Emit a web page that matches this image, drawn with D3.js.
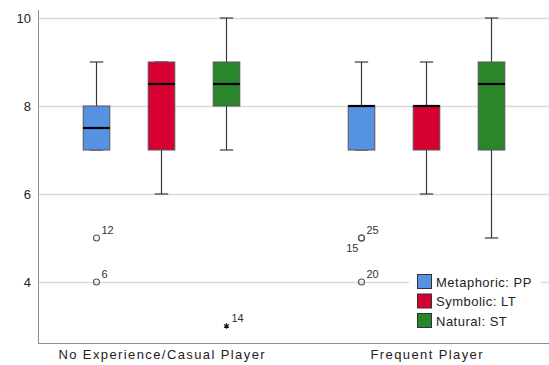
<!DOCTYPE html>
<html>
<head>
<meta charset="utf-8">
<script src="https://cdn.jsdelivr.net/npm/d3@7"></script>
<style>
  html, body { margin: 0; padding: 0; background: #fff; }
  svg { display: block; font-family: "Liberation Sans", Arial, sans-serif; }
</style>
</head>
<body>
<svg id="chart" width="549" height="365"></svg>
<script>
// Player groups and rating conditions
const groups = ["No Experience/Casual Player", "Frequent Player"];
const seriesNames = ["Metaphoric: PP", "Symbolic: LT", "Natural: ST"];
const seriesColors = ["#5592e2", "#d70033", "#29862a"];
const yTicks = [4, 6, 8, 10];

// Box statistics per group, one entry per condition: [whisker low, Q1, median, Q3, whisker high]
const casualStats = [
  [7, 7, 7.5, 8, 9],
  [6, 7, 8.5, 9, 9],
  [7, 8, 8.5, 9, 10]
];
const frequentStats = [
  [7, 7, 8, 8, 9],
  [6, 7, 8, 8, 9],
  [5, 7, 8.5, 9, 10]
];

// Outlying cases: [group index, condition index, value, case id, kind]
const outliers = [
  [0, 0, 5, "12", "outlier"],
  [0, 0, 4, "6", "outlier"],
  [0, 2, 3, "14", "extreme"],
  [1, 0, 5, "25", "outlier"],
  [1, 0, 5, "15", "outlier"],
  [1, 0, 4, "20", "outlier"]
];

const statsByGroup = [casualStats, frequentStats];

const svg = d3.select("#chart");
const plotLeft = 38, plotRight = 549, plotTop = 10, plotBottom = 343;

const y = d3.scaleLinear().domain([4, 10]).range([282, 18]);
const x = d3.scaleBand().domain(groups).range([29, 559]);
const inner = d3.scaleBand().domain(seriesNames).range([-97.5, 97.5]);
const boxW = 26.6, capW = 13.4;

const cx = (g, s) => x(groups[g]) + x.bandwidth() / 2 + inner(seriesNames[s]) + inner.bandwidth() / 2;

// Grid lines
svg.append("g")
  .selectAll("line")
  .data(yTicks)
  .join("line")
  .attr("x1", plotLeft).attr("x2", plotRight)
  .attr("y1", d => Math.round(y(d)) + 0.5).attr("y2", d => Math.round(y(d)) + 0.5)
  .attr("stroke", "#d9d9d9").attr("stroke-width", 1.3);

// Y axis
const yAxis = d3.axisLeft(y).tickValues(yTicks).tickSize(0).tickPadding(7).tickFormat(d3.format("d"));
const yg = svg.append("g").attr("transform", `translate(${plotLeft},0)`).call(yAxis);
yg.select(".domain").remove();
yg.selectAll("text").attr("font-size", 13).attr("fill", "#222")
  .attr("font-family", "Liberation Sans, Arial, sans-serif");
svg.append("line")
  .attr("x1", plotLeft + 0.5).attr("x2", plotLeft + 0.5)
  .attr("y1", plotTop).attr("y2", plotBottom)
  .attr("stroke", "#8c8c8c").attr("stroke-width", 1);

// X axis
svg.append("line")
  .attr("x1", plotLeft).attr("x2", plotRight)
  .attr("y1", plotBottom + 0.5).attr("y2", plotBottom + 0.5)
  .attr("stroke", "#8c8c8c").attr("stroke-width", 1);
const xAxis = d3.axisBottom(x).tickSize(0).tickPadding(7);
const xg = svg.append("g").attr("transform", `translate(0,${plotBottom})`).call(xAxis);
xg.select(".domain").remove();
xg.selectAll("text").attr("font-size", 13).attr("fill", "#222")
  .attr("letter-spacing", "1.4px").attr("dx", "0.7px")
  .attr("font-family", "Liberation Sans, Arial, sans-serif");

// Boxes
const boxes = [];
statsByGroup.forEach((stats, g) => stats.forEach((s, i) => boxes.push({ g, i, s })));

const bg = svg.append("g").selectAll("g").data(boxes).join("g");
const whiskerColor = "#3a3a3a";

// whiskers
bg.append("line")
  .attr("x1", d => cx(d.g, d.i)).attr("x2", d => cx(d.g, d.i))
  .attr("y1", d => y(d.s[4])).attr("y2", d => y(d.s[3]))
  .attr("stroke", whiskerColor).attr("stroke-width", 1.2);
bg.append("line")
  .attr("x1", d => cx(d.g, d.i)).attr("x2", d => cx(d.g, d.i))
  .attr("y1", d => y(d.s[1])).attr("y2", d => y(d.s[0]))
  .attr("stroke", whiskerColor).attr("stroke-width", 1.2);
// caps
bg.append("line")
  .attr("x1", d => cx(d.g, d.i) - capW / 2).attr("x2", d => cx(d.g, d.i) + capW / 2)
  .attr("y1", d => y(d.s[4])).attr("y2", d => y(d.s[4]))
  .attr("stroke", whiskerColor).attr("stroke-width", 1.2);
bg.append("line")
  .attr("x1", d => cx(d.g, d.i) - capW / 2).attr("x2", d => cx(d.g, d.i) + capW / 2)
  .attr("y1", d => y(d.s[0])).attr("y2", d => y(d.s[0]))
  .attr("stroke", whiskerColor).attr("stroke-width", 1.2);
// box
bg.append("rect")
  .attr("x", d => cx(d.g, d.i) - boxW / 2)
  .attr("width", boxW)
  .attr("y", d => y(d.s[3]))
  .attr("height", d => y(d.s[1]) - y(d.s[3]))
  .attr("fill", d => seriesColors[d.i])
  .attr("stroke", "#555").attr("stroke-width", 1);
// median
bg.append("line")
  .attr("x1", d => cx(d.g, d.i) - boxW / 2).attr("x2", d => cx(d.g, d.i) + boxW / 2)
  .attr("y1", d => y(d.s[2])).attr("y2", d => y(d.s[2]))
  .attr("stroke", "#000").attr("stroke-width", 2.2);

// Outliers: labels of coinciding cases alternate between upper-right and lower-left
const seen = {};
const og = svg.append("g");
const asterisk = d3.symbol().type(d3.symbolAsterisk).size(22);
outliers.forEach(([g, i, v, id, kind]) => {
  const key = g + "-" + i + "-" + v;
  const n = seen[key] || 0;
  seen[key] = n + 1;
  const px = cx(g, i), py = y(v);
  if (kind === "extreme") {
    og.append("path").attr("d", asterisk())
      .attr("transform", `translate(${px},${py})`)
      .attr("fill", "none").attr("stroke", "#111").attr("stroke-width", 1.2);
  } else {
    og.append("circle").attr("cx", px).attr("cy", py).attr("r", 3)
      .attr("fill", "none").attr("stroke", "#555").attr("stroke-width", 1.1);
  }
  const t = og.append("text").attr("font-size", 11).attr("fill", "#333").text(id);
  if (n === 0) {
    t.attr("x", px + 5).attr("y", py - 4);
  } else {
    t.attr("x", px - 3).attr("y", py + 14).attr("text-anchor", "end");
  }
});

// Legend
const lg = svg.append("g").attr("transform", "translate(409,272)");
lg.append("rect").attr("x", 0).attr("y", 0).attr("width", 132).attr("height", 58).attr("fill", "#fff");
seriesNames.forEach((name, i) => {
  const row = lg.append("g").attr("transform", `translate(8,${2 + i * 19.5})`);
  row.append("rect").attr("x", 0.5).attr("y", 0.5).attr("width", 14).attr("height", 14)
    .attr("fill", seriesColors[i]).attr("stroke", "#333").attr("stroke-width", 1);
  row.append("text").attr("x", 19).attr("y", 12.5).attr("font-size", 13)
    .attr("letter-spacing", "0.5px").attr("fill", "#222").text(name);
});
</script>
</body>
</html>
